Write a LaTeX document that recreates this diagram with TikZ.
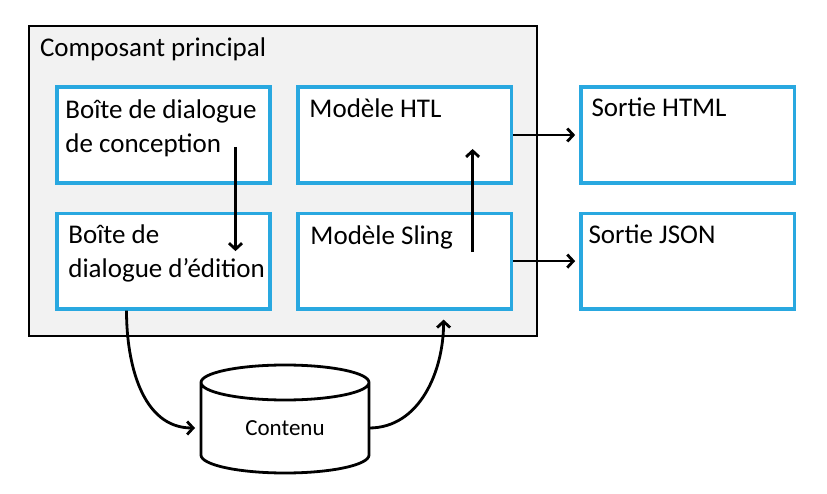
\documentclass[tikz,border=0pt]{standalone}
\usepackage{fontspec}
\setmainfont{Carlito}
\usepackage{tikz}
\usetikzlibrary{arrows.meta,positioning,calc}
\definecolor{boxblue}{RGB}{41,168,224}
\definecolor{panelgray}{RGB}{242,242,242}

\begin{document}
\begin{tikzpicture}[x=1pt,y=-1pt,->,>={Straight Barb[length=6pt,width=13pt]},
  line width=2.8pt,node distance=27pt,
  main box/.style={rectangle,draw=boxblue,fill=white,line width=3.6pt,minimum width=213.5pt,minimum height=95.5pt,inner sep=0pt},
  box text/.style={font=\fontsize{27}{34}\selectfont,align=left,inner sep=0pt,anchor=base west}]

  \useasboundingbox (0,0) rectangle (827,494);

  \node[draw=black,fill=panelgray,minimum width=508pt,minimum height=310pt,inner sep=0pt] (panel) at (283,181) {};
  \node[box text] (paneltxt) at ([xshift=11pt,yshift=-31.5pt]panel.north west) {Composant principal};

  \node[main box] (design) at (163.5,135) {};
  \node[main box] (htl) [right=24pt of design] {};
  \node[main box] (edit) [below=27pt of design] {};
  \node[main box] (sling) [below=27pt of htl] {};
  \node[main box] (html) [right=66pt of htl] {};
  \node[main box] (json) [right=66pt of sling] {};

  % two-line texts sit on their last baseline
  \node[box text] (designtxt) at ([xshift=9pt,yshift=-67pt]design.north west) {Boîte de dialogue\\de conception};
  \node[box text] (htltxt) at ([xshift=12pt,yshift=-32pt]htl.north west) {Modèle HTL};
  \node[box text] (edittxt) at ([xshift=12pt,yshift=-66pt]edit.north west) {Boîte de\\dialogue d’édition};
  \node[box text] (slingtxt) at ([xshift=13pt,yshift=-33pt]sling.north west) {Modèle Sling};
  \node[box text] (htmltxt) at ([xshift=11pt,yshift=-31pt]html.north west) {Sortie HTML};
  \node[box text] (jsontxt) at ([xshift=8pt,yshift=-32pt]json.north west) {Sortie JSON};

  % the data store
  \node[font=\fontsize{23}{28}\selectfont,minimum width=168pt,minimum height=60pt,inner sep=0pt,outer sep=0pt] (db) at (285,428) {Contenu};
  \draw[-] ([yshift=45.5pt]db.west) -- ([yshift=-27pt]db.west)
    arc[start angle=180,end angle=360,x radius=84pt,y radius=18pt]
    -- ([yshift=45.5pt]db.east)
    arc[start angle=0,end angle=360,x radius=84pt,y radius=17.5pt];

  \draw ([xshift=72pt,yshift=-12pt]design.center) -- ([xshift=72pt,yshift=10pt]edit.center);
  \draw ([xshift=68pt,yshift=9pt]sling.center) -- ([xshift=68pt,yshift=-14pt]htl.center);
  \draw[shorten >=4pt] (htl) -- (html);
  \draw[shorten >=4pt] (sling) -- (json);
  \draw ([xshift=-37pt]edit.south) .. controls +(0,53) and +(-53,0) .. ([xshift=-6pt]db.west);
  \draw (db.east) .. controls +(51,0) and +(0,51) .. ([xshift=39pt,yshift=-9pt]sling.south);
\end{tikzpicture}
\end{document}
